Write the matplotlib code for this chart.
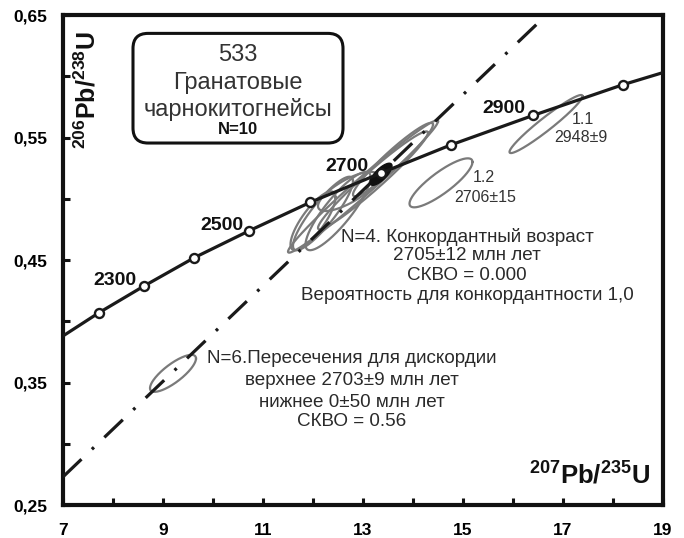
import numpy as np
import matplotlib
matplotlib.use("Agg")
import matplotlib.pyplot as plt
from matplotlib.patches import FancyBboxPatch
from matplotlib.ticker import FixedLocator

plt.rcParams['font.family'] = ['Liberation Sans', 'DejaVu Sans']
plt.rcParams['mathtext.fontset'] = 'custom'
plt.rcParams['mathtext.rm'] = 'Liberation Sans'
plt.rcParams['mathtext.bf'] = 'Liberation Sans:bold'

# Concordia curve: ends + age markers
curve_x = [7.0, 7.72, 8.63, 9.63, 10.73, 11.94, 13.36, 14.76, 16.40, 18.19, 19.0]
curve_y = [0.388, 0.407, 0.429, 0.452, 0.474, 0.497, 0.521, 0.544, 0.568, 0.593, 0.603]
marker_ages = [2200, 2300, 2400, 2500, 2600, 2700, 2800, 2900, 3000]
marker_x = [7.72, 8.63, 9.63, 10.73, 11.94, 13.36, 14.76, 16.40, 18.19]
marker_y = [0.407, 0.429, 0.452, 0.474, 0.497, 0.521, 0.544, 0.568, 0.593]
labeled_ages = ['2300', '2500', '2700', '2900']
label_x = [8.04, 10.18, 12.68, 15.82]
label_y = [0.433, 0.478, 0.526, 0.574]

# Discordia: lower and upper intercepts
disc_x = [0.0, 13.36]
disc_y = [0.0, 0.521]

# Error ellipses: centre, half-range x, half-range y, correlation
ell_cx = [16.66, 14.56, 9.20, 13.00, 12.20, 12.50, 13.20, 13.60, 12.70, 12.00]
ell_cy = [0.561, 0.513, 0.3575, 0.510, 0.488, 0.490, 0.515, 0.532, 0.506, 0.482]
ell_sx = [0.73, 0.63, 0.46, 1.50, 0.60, 0.65, 1.10, 0.80, 0.60, 0.45]
ell_sy = [0.0237, 0.020, 0.0151, 0.054, 0.030, 0.032, 0.040, 0.030, 0.016, 0.024]
ell_rho = [0.96, 0.85, 0.80, 0.985, 0.88, 0.86, 0.97, 0.95, 0.75, 0.80]

# Concordia age ellipse (filled)
conc_cx, conc_cy, conc_sx, conc_sy, conc_rho = 13.36, 0.520, 0.22, 0.009, 0.75

fig = plt.figure(figsize=(6.84, 5.38), dpi=100)
ax = fig.add_axes([0.0921, 0.0613, 0.8772, 0.9108])
ax.set_xlim(7, 19)
ax.set_ylim(0.25, 0.65)

def ellipse_xy(cx, cy, sx, sy, rho, n=200):
    t = np.linspace(0, 2 * np.pi, n)
    x = cx + sx * np.cos(t)
    y = cy + sy * (rho * np.cos(t) + np.sqrt(1 - rho ** 2) * np.sin(t))
    return x, y

for cx, cy, sx, sy, r in zip(ell_cx, ell_cy, ell_sx, ell_sy, ell_rho):
    ex, ey = ellipse_xy(cx, cy, sx, sy, r)
    ax.plot(ex, ey, color='#7a7a7a', lw=1.6, zorder=2)

ex, ey = ellipse_xy(conc_cx, conc_cy, conc_sx, conc_sy, conc_rho)
ax.fill(ex, ey, color='#111111', zorder=4)

ax.axline((disc_x[0], disc_y[0]), (disc_x[1], disc_y[1]), color='#1a1a1a', lw=2.3,
          linestyle=(0, (8, 4.5, 0.9, 4.5)), zorder=3)

ax.plot(curve_x, curve_y, color='#1a1a1a', lw=2.3, zorder=5, solid_capstyle='butt')
ax.plot(marker_x, marker_y, 'o', ms=6.5, mfc='white', mec='#1a1a1a', mew=1.7, zorder=6)

for lab, lx, ly in zip(labeled_ages, label_x, label_y):
    ax.text(lx, ly, lab, fontsize=14, fontweight='bold', ha='center', va='center',
            color='#111111', zorder=7)

# ellipse labels
ax.text(17.4, 0.5643, '1.1', fontsize=11.5, ha='center', va='center', color='#333333')
ax.text(17.35, 0.5504, '2948±9', fontsize=11.5, ha='center', va='center', color='#333333')
ax.text(15.42, 0.517, '1.2', fontsize=11.5, ha='center', va='center', color='#333333')
ax.text(15.44, 0.5014, '2706±15', fontsize=11.5, ha='center', va='center', color='#333333')

block1 = ['N=4. Конкордантный возраст', '2705±12 млн лет', 'СКВО = 0.000',
          'Вероятность для конкордантности 1,0']
b1_y = [0.4688, 0.4533, 0.4370, 0.4207]
for s, yy in zip(block1, b1_y):
    ax.text(15.08, yy, s, fontsize=13.6, ha='center', va='center', color='#2a2a2a')

block2 = ['N=6.Пересечения для дискордии', 'верхнее 2703±9 млн лет',
          'нижнее 0±50 млн лет', 'СКВО = 0.56']
b2_y = [0.370, 0.352, 0.334, 0.3178]
for s, yy in zip(block2, b2_y):
    ax.text(12.78, yy, s, fontsize=13.6, ha='center', va='center', color='#2a2a2a')

# title box
box = FancyBboxPatch((8.4, 0.5455), 4.2, 0.0895,
                     boxstyle='round,pad=0,rounding_size=0.3',
                     mutation_aspect=0.4 / 12 * 600 / 490,
                     fc='white', ec='#111111', lw=2.2, zorder=8)
ax.add_patch(box)
ax.text(10.5, 0.617, '533', fontsize=17, ha='center', va='center', color='#333333', zorder=9)
ax.text(10.5, 0.5945, 'Гранатовые', fontsize=17, ha='center', va='center', color='#333333', zorder=9)
ax.text(10.5, 0.573, 'чарнокитогнейсы', fontsize=17, ha='center', va='center', color='#333333', zorder=9)
ax.text(10.5, 0.5565, 'N=10', fontsize=12, fontweight='bold', ha='center', va='center', color='#111111', zorder=9)

# axis titles inside
ax.text(7.49, 0.589, r'$\mathbf{^{206}Pb/^{238}U}$', fontsize=18, rotation=90,
        ha='center', va='center', color='#111111')
ax.text(17.53, 0.2745, r'$\mathbf{^{207}Pb/^{235}U}$', fontsize=18.5,
        ha='center', va='center', color='#111111')

# ticks
ax.xaxis.set_major_locator(FixedLocator([7, 9, 11, 13, 15, 17, 19]))
ax.xaxis.set_minor_locator(FixedLocator([8, 10, 12, 14, 16, 18]))
ax.yaxis.set_major_locator(FixedLocator([0.25, 0.35, 0.45, 0.55, 0.65]))
ax.yaxis.set_minor_locator(FixedLocator([0.30, 0.40, 0.50, 0.60]))
ax.set_xticklabels(['7', '9', '11', '13', '15', '17', '19'])
ax.set_yticklabels(['0,25', '0,35', '0,45', '0,55', '0,65'])
ax.tick_params(which='both', direction='in', width=2.2, color='#111111')
ax.tick_params(which='major', length=5, labelsize=12.5)
ax.tick_params(which='minor', length=5)
ax.tick_params(axis='x', which='major', pad=13)
ax.tick_params(axis='y', which='major', pad=11)
for lab in ax.get_xticklabels() + ax.get_yticklabels():
    lab.set_fontweight('bold')
for sp in ax.spines.values():
    sp.set_linewidth(3)
    sp.set_color('#111111')

fig.savefig('out.png', dpi=100)
